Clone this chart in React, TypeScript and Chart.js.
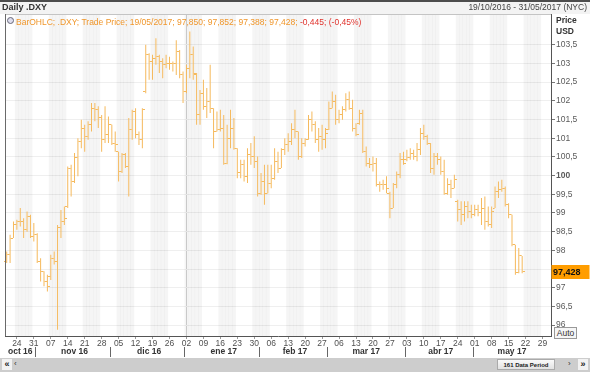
import React, { useEffect, useRef } from 'react';
import { Chart, registerables } from 'chart.js';
Chart.register(...registerables);

const FONT = '"Liberation Sans", Arial, sans-serif';
const BAR_COLOR = '#f5b95c';
const BAND_COLOR = 'rgba(0,0,0,0.04)';

// ---- data ----
const opens = [
  97.70, 97.88, 98.33, 98.68, 98.77, 98.77, 98.55, 98.91, 98.37, 98.42,
  97.70, 97.44, 97.17, 97.30, 97.79, 97.70, 98.60, 98.77, 99.17, 100.20,
  99.85, 100.47, 100.91, 101.27, 101.05, 101.36, 101.80, 101.76, 101.54, 100.96,
  101.09, 101.36, 100.87, 100.64, 100.11, 100.55, 100.24, 101.22, 101.71, 101.09,
  100.96, 102.25, 103.23, 103.05, 103.14, 103.18, 103.05, 102.96, 103.00, 103.00,
  103.00, 103.32, 102.69, 102.25, 102.87, 103.23, 102.70, 101.62, 102.20, 101.85,
  101.98, 101.80, 101.18, 101.22, 101.27, 100.33, 101.00, 101.27, 100.73, 100.07,
  100.29, 99.98, 100.55, 100.51, 100.38, 99.53, 99.84, 99.53, 99.80, 99.93,
  100.38, 100.20, 100.69, 100.82, 100.91, 101.22, 101.18, 100.51, 100.87, 100.96,
  101.49, 101.36, 100.96, 101.05, 100.96, 101.22, 101.80, 101.98, 101.49, 101.62,
  101.76, 102.03, 101.80, 101.27, 101.40, 101.67, 100.64, 100.33, 100.29, 100.33,
  99.75, 99.75, 99.75, 99.53, 99.13, 99.75, 100.02, 100.42, 100.42, 100.47,
  100.60, 100.51, 100.69, 101.13, 101.05, 100.87, 100.20, 100.51, 100.42, 100.11,
  99.53, 99.75, 99.66, 99.30, 99.08, 98.95, 99.17, 99.04, 98.95, 99.08,
  99.00, 99.13, 98.77, 98.68, 99.13, 99.57, 99.62, 99.66, 99.22, 98.95,
  98.15, 97.40, 97.850,
];
const highs = [
  97.97, 98.42, 98.77, 98.82, 99.13, 98.86, 99.04, 98.95, 98.73, 98.46,
  97.79, 97.44, 97.35, 97.88, 97.97, 98.68, 99.08, 99.17, 100.24, 100.29,
  100.60, 101.00, 101.49, 101.36, 101.45, 101.94, 101.94, 101.85, 101.62, 101.85,
  101.58, 101.36, 101.18, 100.64, 100.60, 100.60, 101.54, 101.76, 101.80, 101.18,
  101.80, 103.50, 103.27, 103.23, 103.67, 103.23, 103.14, 103.23, 103.18, 103.05,
  103.62, 103.36, 102.78, 102.96, 103.85, 103.45, 102.74, 102.29, 102.56, 102.34,
  102.96, 101.80, 101.71, 101.76, 101.62, 101.36, 101.76, 101.54, 100.73, 100.42,
  100.42, 100.73, 100.87, 101.05, 100.51, 100.07, 100.29, 100.29, 100.29, 100.73,
  100.64, 100.73, 101.00, 101.13, 101.40, 101.76, 101.18, 101.00, 101.00, 101.62,
  101.71, 101.45, 101.27, 101.36, 101.27, 101.98, 102.25, 102.16, 101.76, 101.85,
  102.20, 102.25, 102.03, 101.40, 101.76, 101.76, 100.78, 100.47, 100.51, 100.47,
  99.84, 99.89, 99.98, 99.57, 99.80, 100.11, 100.60, 100.64, 100.69, 100.73,
  100.69, 100.87, 101.27, 101.36, 101.09, 100.87, 100.60, 100.60, 100.51, 100.42,
  99.93, 99.89, 100.02, 99.35, 99.31, 99.31, 99.31, 99.22, 99.22, 99.22,
  99.40, 99.44, 99.17, 99.17, 99.71, 99.84, 99.89, 99.71, 99.26, 98.95,
  98.15, 98.06, 97.852,
];
const lows = [
  97.66, 97.66, 98.33, 98.55, 98.64, 98.33, 98.50, 98.33, 98.24, 97.66,
  97.17, 97.04, 96.90, 97.21, 97.62, 95.88, 98.33, 98.68, 99.13, 99.44,
  99.80, 99.98, 100.73, 100.64, 100.96, 101.18, 101.45, 101.27, 100.64, 100.87,
  100.87, 100.82, 100.64, 99.84, 100.07, 100.20, 99.44, 100.96, 101.00, 100.82,
  100.73, 102.20, 102.56, 102.56, 102.96, 102.74, 102.60, 102.87, 102.83, 102.78,
  102.69, 102.60, 101.94, 102.20, 102.60, 102.56, 101.36, 101.36, 101.76, 101.54,
  101.67, 100.73, 101.18, 101.18, 100.29, 100.30, 100.73, 100.69, 99.93, 99.93,
  99.84, 99.80, 100.29, 100.20, 99.44, 99.49, 99.22, 99.53, 99.66, 99.89,
  100.07, 100.20, 100.55, 100.64, 100.82, 101.00, 100.42, 100.47, 100.78, 100.96,
  101.18, 100.87, 100.64, 100.69, 100.73, 101.22, 101.80, 101.36, 101.40, 101.49,
  101.71, 101.76, 101.18, 101.05, 101.36, 100.60, 100.24, 100.20, 100.11, 99.71,
  99.57, 99.62, 99.53, 98.86, 99.13, 99.66, 99.93, 100.29, 100.38, 100.42,
  100.42, 100.38, 100.55, 100.96, 100.82, 100.07, 100.02, 100.29, 100.02, 99.49,
  99.49, 99.40, 99.66, 98.77, 98.68, 98.77, 98.86, 98.86, 98.91, 98.91,
  98.68, 98.55, 98.64, 98.60, 99.13, 99.40, 99.57, 99.17, 98.86, 98.11,
  97.35, 97.39, 97.388,
];
const closes = [
  97.88, 98.33, 98.68, 98.77, 98.77, 98.55, 98.91, 98.37, 98.42, 97.70,
  97.44, 97.17, 97.04, 97.79, 97.70, 98.60, 98.77, 98.86, 100.20, 99.85,
  100.47, 100.91, 101.27, 101.05, 101.36, 101.80, 101.76, 101.54, 100.96, 101.09,
  101.36, 100.87, 100.82, 100.11, 100.55, 100.24, 101.22, 101.71, 101.09, 100.96,
  101.76, 103.23, 103.05, 103.14, 103.18, 103.05, 102.96, 103.00, 103.00, 103.00,
  103.32, 102.69, 102.25, 102.87, 103.23, 102.74, 101.62, 102.20, 101.85, 101.98,
  101.80, 101.18, 101.22, 101.27, 100.33, 101.00, 101.27, 100.73, 100.07, 100.29,
  99.98, 100.55, 100.51, 100.38, 99.53, 99.84, 99.53, 99.80, 99.93, 100.38,
  100.20, 100.69, 100.82, 100.91, 101.22, 101.18, 100.51, 100.87, 100.96, 101.49,
  101.36, 100.96, 101.05, 100.96, 101.13, 101.80, 101.98, 101.49, 101.62, 101.76,
  102.03, 101.80, 101.27, 101.09, 101.67, 100.64, 100.33, 100.29, 100.33, 99.75,
  99.75, 99.75, 99.66, 99.13, 99.75, 100.02, 100.42, 100.33, 100.47, 100.60,
  100.51, 100.69, 101.13, 101.05, 100.87, 100.20, 100.51, 100.42, 100.11, 99.53,
  99.75, 99.66, 99.89, 99.08, 98.95, 99.17, 99.04, 98.95, 99.08, 99.00,
  99.13, 98.77, 98.68, 99.04, 99.57, 99.62, 99.66, 99.22, 98.95, 98.15,
  97.40, 97.873, 97.428,
];

const MONTH_LABELS = ['oct 16', 'nov 16', 'dic 16', 'ene 17', 'feb 17', 'mar 17', 'abr 17', 'may 17'];
const Y_TICKS = [96, 96.5, 97, 97.5, 98, 98.5, 99, 99.5, 100, 100.5, 101, 101.5, 102, 102.5, 103, 103.5];
const Y_MIN = 95.71;
const Y_MAX = 104.32;

// ---- calendar: one slot per weekday, 19/10/2016 .. 31/05/2017 (161 periods) ----
const pad2 = (n: number) => (n < 10 ? '0' : '') + n;
function buildDays(): Date[] {
  const out: Date[] = [];
  const d = new Date(Date.UTC(2016, 9, 19));
  const end = Date.UTC(2017, 4, 31);
  while (d.getTime() <= end) {
    const wd = d.getUTCDay();
    if (wd !== 0 && wd !== 6) out.push(new Date(d.getTime()));
    d.setUTCDate(d.getUTCDate() + 1);
  }
  return out;
}
const DAYS = buildDays();
const categories = DAYS.map((d) => `${pad2(d.getUTCDate())}/${pad2(d.getUTCMonth() + 1)}/${d.getUTCFullYear()}`);
const dayLabels = DAYS.map((d) => (d.getUTCDay() === 1 ? pad2(d.getUTCDate()) : ''));
const isMonday = DAYS.map((d) => d.getUTCDay() === 1);

// month groups
const monthFirst: number[] = [];
const monthLast: number[] = [];
DAYS.forEach((d, i) => {
  const key = d.getUTCFullYear() * 12 + d.getUTCMonth();
  const prev = i > 0 ? DAYS[i - 1].getUTCFullYear() * 12 + DAYS[i - 1].getUTCMonth() : -1;
  if (key !== prev) {
    monthFirst.push(i);
    if (i > 0) monthLast.push(i - 1);
  }
});
monthLast.push(DAYS.length - 1);
const monthLabelAt: string[] = DAYS.map(() => '');
monthFirst.forEach((f, k) => {
  const c = Math.round((f + monthLast[k]) / 2);
  monthLabelAt[c] = MONTH_LABELS[k];
});
const monthStartSet = new Set(monthFirst.slice(1));
const yearStartIdx = DAYS.findIndex((d) => d.getUTCFullYear() === 2017);

// alternating shaded weeks
const WEEK0 = Date.UTC(2016, 9, 17);
const shaded = DAYS.map((d) => Math.floor((d.getTime() - WEEK0) / (7 * 86400000)) % 2 === 1);

const fmtY = (v: number) => (Number.isInteger(v) ? String(v) : v.toFixed(1).replace('.', ','));
const fmt3 = (v: number) => v.toFixed(3).replace('.', ',');

const N = closes.length;
const lastO = opens[N - 1], lastH = highs[N - 1], lastL = lows[N - 1], lastC = closes[N - 1];
const chg = lastC - closes[N - 2];
const chgPct = (chg / closes[N - 2]) * 100;

function makeTick(side: 'l' | 'r') {
  const c = document.createElement('canvas');
  c.width = 5;
  c.height = 1;
  const g = c.getContext('2d')!;
  g.fillStyle = BAR_COLOR;
  if (side === 'l') g.fillRect(0, 0, 2, 1);
  else g.fillRect(3, 0, 2, 1);
  return c;
}

const framePlugin = {
  id: 'frame',
  afterDatasetsDraw(chart: any) {
    const { ctx, chartArea: a } = chart;
    ctx.save();
    ctx.lineWidth = 1;
    ctx.strokeStyle = '#c4c4c4';
    ctx.beginPath();
    ctx.moveTo(a.left, a.top + 0.5);
    ctx.lineTo(a.right, a.top + 0.5);
    ctx.stroke();
    ctx.strokeStyle = '#6a6a6a';
    ctx.beginPath();
    ctx.moveTo(a.left + 0.5, a.top);
    ctx.lineTo(a.left + 0.5, a.bottom);
    ctx.stroke();
    ctx.restore();
  },
};

const priceTagPlugin = {
  id: 'priceTag',
  afterDraw(chart: any) {
    const y = chart.scales.y;
    const ctx = chart.ctx;
    const py = y.getPixelForValue(lastC);
    ctx.save();
    ctx.fillStyle = '#ff9d00';
    ctx.fillRect(y.left + 0.5, Math.round(py) - 7, 38, 14);
    ctx.fillStyle = '#111';
    ctx.font = `bold 9px ${FONT}`;
    ctx.textBaseline = 'middle';
    ctx.fillText(fmt3(lastC), y.left + 2, Math.round(py) + 0.5);
    ctx.restore();
  },
};

export default function App() {
  const ref = useRef<HTMLCanvasElement>(null);
  useEffect(() => {
    document.body.style.margin = '0';
    const pad = <T,>(arr: T[]) => categories.map((_, i) => (i < arr.length ? arr[i] : null));
    const hl = categories.map((_, i) => (i < N ? [lows[i], highs[i]] : null));
    const band = categories.map((_, i) => (shaded[i] ? [Y_MIN, Y_MAX] : null));
    const tr = 'rgba(0,0,0,0)';
    const chart = new Chart(ref.current!, {
      type: 'bar',
      data: {
        labels: categories,
        datasets: [
          {
            type: 'bar',
            data: band as any,
            backgroundColor: BAND_COLOR,
            barPercentage: 1,
            categoryPercentage: 1,
            grouped: false,
            order: 10,
          } as any,
          {
            type: 'bar',
            data: hl as any,
            backgroundColor: BAR_COLOR,
            barThickness: 1,
            grouped: false,
            inflateAmount: 0,
            order: 2,
          } as any,
          {
            type: 'line',
            data: pad(opens) as any,
            showLine: false,
            pointStyle: makeTick('l') as any,
            pointRadius: 3,
            order: 1,
          } as any,
          {
            type: 'line',
            data: pad(closes) as any,
            showLine: false,
            pointStyle: makeTick('r') as any,
            pointRadius: 3,
            order: 1,
          } as any,
        ],
      },
      options: {
        animation: false,
        responsive: false,
        devicePixelRatio: 1,
        events: [],
        layout: { padding: { left: 5, top: 14, right: 0, bottom: 15 } },
        plugins: { legend: { display: false }, tooltip: { enabled: false } },
        scales: {
          x: {
            type: 'category',
            position: 'bottom',
            offset: true,
            weight: 0,
            afterFit: (s: any) => { s.height = 11; },
            grid: {
              offset: false,
              drawOnChartArea: true,
              color: (c: any) => (c.index === yearStartIdx ? '#d2d2d2' : tr),
              tickLength: 3,
              tickColor: (c: any) => (isMonday[c.index] ? '#9a9a9a' : tr),
            },
            border: { display: true, color: '#555' },
            ticks: {
              autoSkip: false,
              maxRotation: 0,
              minRotation: 0,
              padding: 0,
              color: '#505050',
              font: { family: FONT, size: 8.5 },
              callback: (_v: any, i: number) => dayLabels[i],
            },
          },
          x2: {
            type: 'category',
            position: 'bottom',
            offset: true,
            weight: 1,
            afterFit: (s: any) => { s.height = 10; },
            grid: {
              offset: true,
              drawOnChartArea: false,
              tickLength: 10,
              tickColor: (c: any) => (monthStartSet.has(c.index) ? '#666' : tr),
            },
            border: { display: false },
            ticks: {
              autoSkip: false,
              maxRotation: 0,
              minRotation: 0,
              padding: -10,
              color: '#333',
              font: { family: FONT, size: 8.5, weight: 'bold' },
              callback: (_v: any, i: number) => monthLabelAt[i],
            },
          },
          y: {
            type: 'linear',
            position: 'right',
            min: Y_MIN,
            max: Y_MAX,
            afterBuildTicks: (s: any) => { s.ticks = Y_TICKS.map((v) => ({ value: v })); },
            afterFit: (s: any) => { s.width = 39; },
            grid: { color: '#efefef', tickLength: 4, tickColor: '#777' },
            border: { display: true, color: '#555' },
            ticks: {
              padding: 1,
              color: '#5a5a5a',
              font: (c: any) => ({ family: FONT, size: 8.5, weight: c.tick && c.tick.value === 100 ? 'bold' : 'normal' }),
              callback: (v: any) => fmtY(Number(v)),
            },
          },
        },
      } as any,
      plugins: [framePlugin, priceTagPlugin],
    });
    return () => chart.destroy();
  }, []);

  const txt: React.CSSProperties = { position: 'absolute', fontFamily: FONT, fontSize: 8.5, lineHeight: '10px', whiteSpace: 'nowrap' };
  return (
    <div style={{ position: 'relative', width: 590, height: 372, overflow: 'hidden', background: '#fff' }}>
      <canvas ref={ref} width={590} height={372} style={{ position: 'absolute', left: 0, top: 0, width: 590, height: 372 }} />
      <div style={{ position: 'absolute', left: 0, top: 0, width: 590, height: 2, background: '#4d4d4d' }} />
      <div style={{ position: 'absolute', left: 0, top: 2, width: 590, height: 12, background: '#f3f3f3' }} />
      <div style={{ ...txt, left: 2, top: 2, fontWeight: 'bold', color: '#333', fontSize: 9 }}>Daily .DXY</div>
      <div style={{ ...txt, right: 3, top: 2, color: '#444' }}>19/10/2016 - 31/05/2017 (NYC)</div>
      <div style={{ position: 'absolute', left: 7, top: 17, width: 5, height: 5, borderRadius: '50%', border: '1px solid #667', background: '#dde' }} />
      <div style={{ ...txt, left: 16, top: 17 }}>
        <span style={{ color: '#f0962a' }}>{`BarOHLC; .DXY; Trade Price; ${categories[N - 1]}; ${fmt3(lastO)}; ${fmt3(lastH)}; ${fmt3(lastL)}; ${fmt3(lastC)}; `}</span>
        <span style={{ color: '#e0322c' }}>{`${fmt3(chg)}; (${chgPct.toFixed(2).replace('.', ',')}%)`}</span>
      </div>
      <div style={{ ...txt, left: 556, top: 15, fontWeight: 'bold', color: '#333' }}>Price</div>
      <div style={{ ...txt, left: 556, top: 26, fontWeight: 'bold', color: '#333' }}>USD</div>
      <div style={{ ...txt, left: 554, top: 327, width: 23, height: 12, lineHeight: '11px', textAlign: 'center', border: '1px solid #999', background: '#f6f6f6', color: '#333', boxSizing: 'border-box' }}>Auto</div>
      <div style={{ position: 'absolute', left: 0, top: 358, width: 590, height: 14, background: '#cdcdcd' }} />
      <div style={{ ...txt, left: 2, top: 359, width: 10, height: 11, background: '#f2f2f2', fontWeight: 'bold', textAlign: 'center', color: '#222', fontSize: 9 }}>«</div>
      <div style={{ ...txt, left: 14, top: 359, color: '#333', fontSize: 8 }}>‹</div>
      <div style={{ ...txt, left: 497, top: 359, width: 58, height: 11, lineHeight: '11px', background: 'linear-gradient(#fafafa,#e2e2e2)', border: '1px solid #aaa', boxSizing: 'border-box', fontSize: 6, fontWeight: 'bold', textAlign: 'center', color: '#222' }}>161 Data Period</div>
      <div style={{ ...txt, left: 568, top: 359, color: '#333', fontSize: 8 }}>›</div>
      <div style={{ ...txt, left: 578, top: 359, width: 10, height: 11, background: '#f2f2f2', fontWeight: 'bold', textAlign: 'center', color: '#222', fontSize: 9 }}>»</div>
    </div>
  );
}
